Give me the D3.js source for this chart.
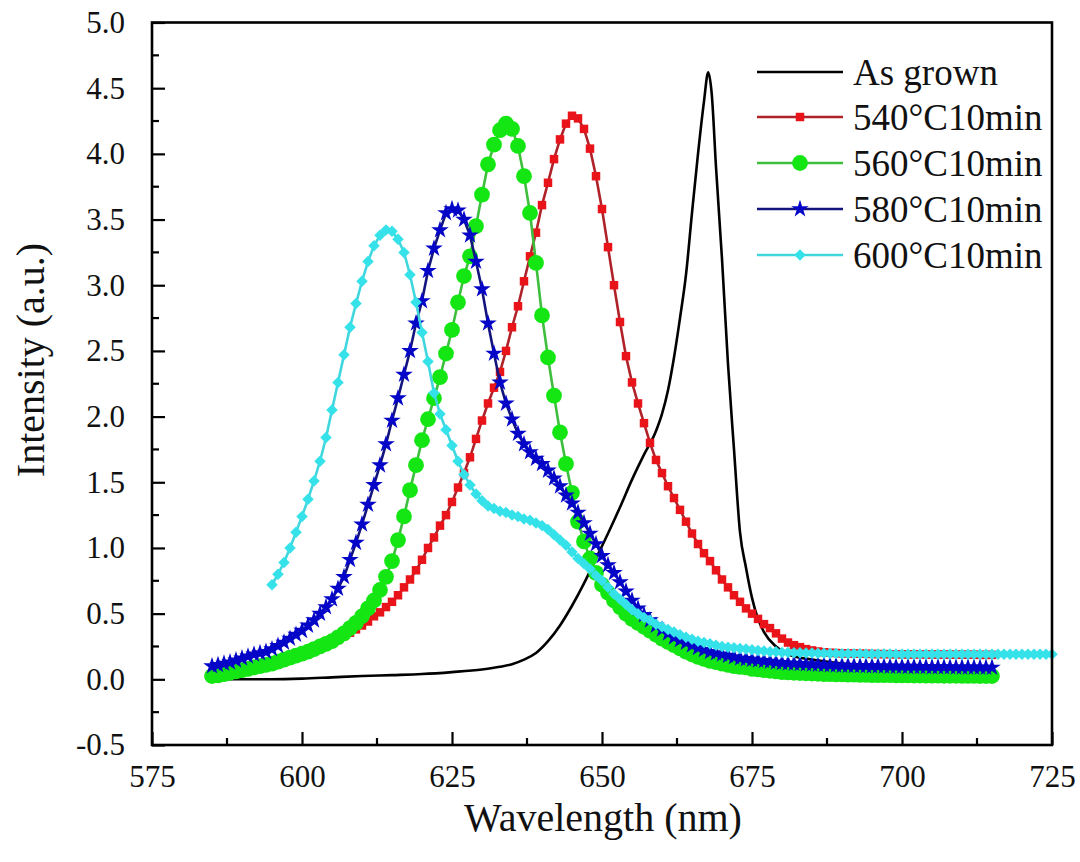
<!DOCTYPE html>
<html>
<head>
<meta charset="utf-8">
<script src="https://cdn.jsdelivr.net/npm/d3@7"></script>
<style>
html,body{margin:0;padding:0;background:#fff;}
svg{display:block;}
text{font-family:"Liberation Serif","Times New Roman",serif;fill:#111;}
</style>
</head>
<body>
<svg id="chart" width="1080" height="862" font-family="Liberation Serif, serif"></svg>
<script>
// ---------- DATA ----------
const wlA = [585,586,587,588,589,590,591,592,593,594,595,596,597,598,599,600,601,602,603,604,605,606,607,608,609,610,611,612,613,614,615,616,617,618,619,620,621,622,623,624,625,626,627,628,629,630,631,632,633,634,635,636,637,638,639,640,641,642,643,644,645,646,647,648,649,650,651,652,653,654,655,656,657,658,659,660,661,662,663,664,665,666,667,668,669,670,671,672,673,674,675,676,677,678,679,680,681,682,683,684,685,686,687,688,689,690,691,692,693,694,695,696,697,698,699,700,701,702,703,704,705,706,707,708,709,710,711,712,713,714,715];
const wlB = [595,596,597,598,599,600,601,602,603,604,605,606,607,608,609,610,611,612,613,614,615,616,617,618,619,620,621,622,623,624,625,626,627,628,629,630,631,632,633,634,635,636,637,638,639,640,641,642,643,644,645,646,647,648,649,650,651,652,653,654,655,656,657,658,659,660,661,662,663,664,665,666,667,668,669,670,671,672,673,674,675,676,677,678,679,680,681,682,683,684,685,686,687,688,689,690,691,692,693,694,695,696,697,698,699,700,701,702,703,704,705,706,707,708,709,710,711,712,713,714,715,716,717,718,719,720,721,722,723,724,725];

const wlGrown = [585,590,595,600,605,610,615,620,625,630,633,635,637,639,641,643,645,647,649,651,653,655,657,659,660,661,662,663,664,665,666,667,667.7,668.3,669,670,671,672,673,674,675,676,677,679,681,685,690,700,715];
const vGrown  = [0.0,0.0,0.0,0.005,0.015,0.025,0.032,0.04,0.055,0.075,0.095,0.115,0.15,0.2,0.29,0.41,0.56,0.73,0.92,1.11,1.31,1.52,1.71,1.89,2.02,2.2,2.45,2.75,3.08,3.55,4.0,4.4,4.62,4.45,3.9,3.2,2.4,1.75,1.12,0.85,0.62,0.46,0.36,0.25,0.19,0.15,0.12,0.09,0.08];

const v540 = [0.04,0.05,0.055,0.06,0.07,0.08,0.09,0.10,0.11,0.12,0.13,0.14,0.155,0.17,0.185,0.20,0.215,0.23,0.245,0.26,0.28,0.30,0.33,0.355,0.38,0.41,0.44,0.48,0.51,0.55,0.59,0.64,0.70,0.76,0.83,0.91,1.00,1.08,1.17,1.25,1.35,1.46,1.57,1.69,1.83,1.97,2.10,2.22,2.34,2.50,2.68,2.84,3.03,3.22,3.40,3.61,3.78,3.96,4.11,4.23,4.29,4.27,4.19,4.04,3.83,3.58,3.29,3.00,2.72,2.46,2.26,2.10,1.95,1.80,1.67,1.57,1.47,1.38,1.29,1.20,1.11,1.03,0.96,0.90,0.83,0.76,0.70,0.64,0.59,0.54,0.50,0.46,0.42,0.39,0.35,0.31,0.28,0.26,0.245,0.23,0.22,0.212,0.206,0.202,0.2,0.198,0.197,0.196,0.195,0.194,0.193,0.192,0.192,0.191,0.191,0.19,0.19,0.19,0.19,0.189,0.189,0.189,0.188,0.188,0.188,0.187,0.187,0.187,0.186,0.186,0.186];

const v560 = [0.025,0.03,0.04,0.05,0.06,0.07,0.08,0.09,0.10,0.11,0.12,0.135,0.15,0.165,0.18,0.195,0.21,0.23,0.25,0.27,0.29,0.32,0.35,0.39,0.43,0.48,0.54,0.60,0.68,0.78,0.90,1.06,1.24,1.44,1.63,1.82,1.98,2.14,2.30,2.48,2.66,2.87,3.07,3.22,3.45,3.69,3.92,4.07,4.18,4.23,4.19,4.06,3.83,3.55,3.17,2.77,2.45,2.16,1.88,1.64,1.42,1.20,1.05,0.92,0.81,0.72,0.66,0.60,0.55,0.50,0.46,0.43,0.40,0.37,0.34,0.31,0.285,0.26,0.235,0.21,0.19,0.17,0.155,0.14,0.13,0.12,0.11,0.10,0.095,0.09,0.08,0.075,0.07,0.065,0.06,0.055,0.052,0.05,0.048,0.046,0.044,0.042,0.04,0.039,0.038,0.037,0.036,0.035,0.034,0.033,0.032,0.032,0.031,0.031,0.03,0.03,0.03,0.029,0.029,0.028,0.028,0.028,0.027,0.027,0.027,0.026,0.026,0.026,0.025,0.025,0.025];

const v580 = [0.10,0.11,0.12,0.13,0.145,0.16,0.175,0.19,0.20,0.21,0.23,0.255,0.28,0.31,0.34,0.37,0.41,0.45,0.50,0.55,0.61,0.69,0.78,0.91,1.04,1.18,1.33,1.48,1.63,1.79,1.97,2.14,2.32,2.50,2.71,2.88,3.11,3.28,3.42,3.55,3.58,3.57,3.50,3.38,3.18,2.97,2.71,2.48,2.26,2.10,1.98,1.87,1.79,1.73,1.68,1.64,1.59,1.53,1.47,1.40,1.34,1.27,1.19,1.11,1.03,0.94,0.87,0.81,0.74,0.67,0.60,0.54,0.49,0.45,0.41,0.38,0.35,0.32,0.30,0.28,0.26,0.24,0.225,0.21,0.20,0.19,0.18,0.17,0.16,0.155,0.15,0.145,0.14,0.135,0.13,0.125,0.122,0.12,0.118,0.116,0.114,0.112,0.11,0.108,0.106,0.105,0.104,0.103,0.102,0.101,0.10,0.10,0.099,0.098,0.097,0.097,0.096,0.096,0.095,0.095,0.094,0.094,0.093,0.093,0.092,0.092,0.092,0.091,0.091,0.09,0.09];

const v600 = [0.72,0.80,0.89,1.00,1.12,1.24,1.37,1.51,1.66,1.84,2.05,2.26,2.47,2.68,2.86,3.03,3.18,3.30,3.38,3.42,3.41,3.35,3.25,3.08,2.87,2.64,2.42,2.18,2.02,1.90,1.78,1.66,1.56,1.48,1.41,1.36,1.32,1.30,1.28,1.27,1.25,1.24,1.22,1.21,1.19,1.17,1.14,1.10,1.06,1.02,0.97,0.92,0.88,0.84,0.79,0.75,0.70,0.65,0.61,0.57,0.53,0.50,0.47,0.45,0.42,0.40,0.38,0.36,0.34,0.32,0.305,0.29,0.28,0.27,0.26,0.25,0.245,0.24,0.235,0.23,0.225,0.22,0.215,0.21,0.21,0.205,0.204,0.203,0.202,0.201,0.20,0.199,0.198,0.197,0.196,0.195,0.195,0.194,0.194,0.193,0.193,0.192,0.192,0.192,0.191,0.191,0.191,0.19,0.19,0.19,0.19,0.19,0.19,0.19,0.19,0.19,0.19,0.19,0.19,0.19,0.19,0.19,0.19,0.19,0.19,0.19,0.19,0.19,0.19,0.19,0.19];

const seriesNames = ["As grown","540°C10min","560°C10min","580°C10min","600°C10min"];
const xTicks = [575,600,625,650,675,700,725];
const yTicks = [-0.5,0.0,0.5,1.0,1.5,2.0,2.5,3.0,3.5,4.0,4.5,5.0];

// ---------- STYLE / LAYOUT ----------
const svg = d3.select("#chart");
const L = 152, R = 1052, T = 22.5, B = 745;
const x = d3.scaleLinear().domain([575,725]).range([L,R]);
const y = d3.scaleLinear().domain([-0.5,5.0]).range([B,T]);

const styles = [
  {line:"#000000", mark:null},
  {line:"#b0222a", mark:"#e8141a", sym:"square"},
  {line:"#3dbf3d", mark:"#14e614", sym:"circle"},
  {line:"#14147e", mark:"#0505c8", sym:"star"},
  {line:"#3fd6de", mark:"#35e2ea", sym:"diamond"}
];

const symGen = {
  square: d3.symbol().type(d3.symbolSquare).size(72),
  circle: d3.symbol().type(d3.symbolCircle).size(195),
  star:   d3.symbol().type(d3.symbolStar).size(95),
  diamond:d3.symbol().type(d3.symbolSquare).size(66)
};

const plot = svg.append("g");
const lineGen = d3.line().x(d=>x(d[0])).y(d=>y(d[1]));

// As grown line
plot.append("path")
  .datum(d3.zip(wlGrown, vGrown))
  .attr("fill","none").attr("stroke",styles[0].line).attr("stroke-width",2.6)
  .attr("d", d3.line().x(d=>x(d[0])).y(d=>y(d[1])).curve(d3.curveMonotoneX));

const markerSeries = [
  {w:wlA, v:v540, s:styles[1]},
  {w:wlA, v:v560, s:styles[2]},
  {w:wlA, v:v580, s:styles[3]},
  {w:wlB, v:v600, s:styles[4]}
];
markerSeries.forEach(ms=>{
  const pts = d3.zip(ms.w, ms.v);
  const g = plot.append("g");
  g.append("path").datum(pts)
    .attr("fill","none").attr("stroke",ms.s.line).attr("stroke-width",2.6)
    .attr("d", lineGen);
  g.selectAll("path.m").data(pts).enter().append("path").attr("class","m")
    .attr("d", symGen[ms.s.sym]())
    .attr("fill", ms.s.mark)
    .attr("transform", d=>`translate(${x(d[0])},${y(d[1])})` + (ms.s.sym==="diamond"?" rotate(45)":""));
});

// ---------- AXES ----------
const ax = svg.append("g");
const majorLen = 13, minorLen = 7;
const xMinor = [587.5,612.5,637.5,662.5,687.5,712.5];
const yMinor = [-0.25,0.25,0.75,1.25,1.75,2.25,2.75,3.25,3.75,4.25,4.75];
const bottom = ax.append("g").attr("transform",`translate(0,${B})`)
  .call(d3.axisBottom(x).tickValues(xTicks).tickSizeInner(-majorLen).tickSizeOuter(0).tickPadding(20).tickFormat(d=>String(d)));
bottom.append("g").selectAll("line").data(xMinor).enter().append("line")
  .attr("x1",d=>x(d)).attr("x2",d=>x(d)).attr("y1",0).attr("y2",-minorLen)
  .attr("stroke","#000").attr("stroke-width",2.2);
const left = ax.append("g").attr("transform",`translate(${L},0)`)
  .call(d3.axisLeft(y).tickValues(yTicks).tickSizeInner(-majorLen).tickSizeOuter(0).tickPadding(27).tickFormat(d=>d.toFixed(1)));
left.append("g").selectAll("line").data(yMinor).enter().append("line")
  .attr("y1",d=>y(d)).attr("y2",d=>y(d)).attr("x1",0).attr("x2",minorLen)
  .attr("stroke","#000").attr("stroke-width",2.2);
[bottom,left].forEach(a=>{
  a.attr("font-family","Liberation Serif, serif");
  a.select(".domain").remove();
  a.selectAll(".tick line").attr("stroke","#000").attr("stroke-width",2.2);
  a.selectAll(".tick text").attr("font-size",31).attr("fill","#1a1a1a")
    .style("font-family","'Liberation Serif',serif");
});
bottom.selectAll(".tick text").attr("dy","0.71em");
// frame
ax.append("rect").attr("x",L).attr("y",T).attr("width",R-L).attr("height",B-T)
  .attr("fill","none").attr("stroke","#000").attr("stroke-width",2.6);

// titles
svg.append("text").attr("x",603).attr("y",831).attr("text-anchor","middle")
  .attr("font-size",40).text("Wavelength (nm)");
svg.append("text").attr("transform","translate(44,360) rotate(-90)").attr("text-anchor","middle")
  .attr("font-size",40).text("Intensity (a.u.)");

// ---------- LEGEND ----------
const legY = [72,117,163,209,255];
const leg = svg.append("g");
seriesNames.forEach((name,i)=>{
  const st = styles[i], yy = legY[i];
  leg.append("line").attr("x1",757).attr("x2",843).attr("y1",yy).attr("y2",yy)
    .attr("stroke",st.line).attr("stroke-width",2.6);
  if(st.sym){
    leg.append("path").attr("d",symGen[st.sym]()).attr("fill",st.mark)
      .attr("transform",`translate(800,${yy})`+(st.sym==="diamond"?" rotate(45)":""));
  }
  leg.append("text").attr("x",853).attr("y",yy).attr("dy","0.35em")
    .attr("font-size",37).text(name);
});
</script>
</body>
</html>
